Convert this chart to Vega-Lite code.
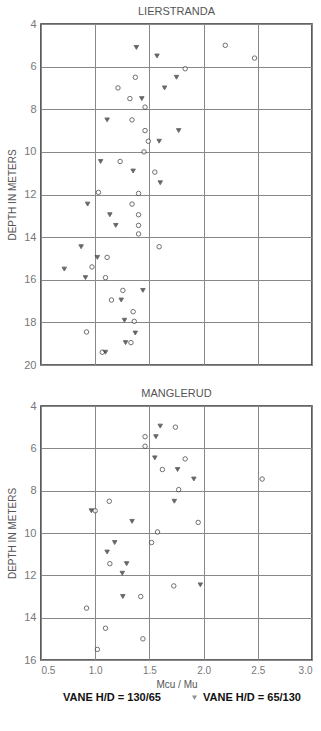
{
  "$schema": "https://vega.github.io/schema/vega-lite/v6.json",
  "background": "white",
  "padding": {"left": 6, "top": 5, "right": 0, "bottom": 0},
  "config": {
    "font": "Liberation Sans",
    "view": {"stroke": "#333", "strokeWidth": 1.6},
    "axis": {"gridColor": "#888", "gridOpacity": 1, "gridWidth": 1, "domainOpacity": 0, "tickOpacity": 0, "tickSize": 0, "labelColor": "#777", "labelFontSize": 11, "labelPadding": 5, "titleColor": "#555", "titleFontSize": 10, "titleFontWeight": "normal", "titlePadding": 6},
    "title": {"fontSize": 11, "fontWeight": "normal", "color": "#555", "offset": 1},
    "concat": {"spacing": 16},
    "legend": {"orient": "none", "legendX": 8, "legendY": 668, "padding": 0, "direction": "horizontal", "labelFontSize": 11, "labelFontWeight": "bold", "labelColor": "#111", "symbolSize": 25, "symbolStrokeColor": "#333", "symbolStrokeWidth": 1.2, "labelOffset": 3, "columnPadding": 28}
  },
  "datasets": {
    "lier": [
      {"v": "t", "r": 1.38, "d": 5.1}, {"v": "t", "r": 1.57, "d": 5.5}, {"v": "c", "r": 2.2, "d": 5.0}, {"v": "c", "r": 2.47, "d": 5.6},
      {"v": "c", "r": 1.83, "d": 6.1}, {"v": "c", "r": 1.37, "d": 6.5}, {"v": "t", "r": 1.75, "d": 6.5}, {"v": "c", "r": 1.21, "d": 7.0},
      {"v": "t", "r": 1.64, "d": 7.0}, {"v": "c", "r": 1.32, "d": 7.5}, {"v": "t", "r": 1.43, "d": 7.5}, {"v": "c", "r": 1.46, "d": 7.9},
      {"v": "t", "r": 1.11, "d": 8.5}, {"v": "c", "r": 1.34, "d": 8.5}, {"v": "c", "r": 1.46, "d": 9.0}, {"v": "t", "r": 1.77, "d": 9.0},
      {"v": "c", "r": 1.49, "d": 9.5}, {"v": "t", "r": 1.59, "d": 9.5}, {"v": "c", "r": 1.45, "d": 10.0}, {"v": "t", "r": 1.05, "d": 10.45},
      {"v": "c", "r": 1.23, "d": 10.45}, {"v": "t", "r": 1.35, "d": 10.9}, {"v": "c", "r": 1.55, "d": 10.95}, {"v": "t", "r": 1.6, "d": 11.45},
      {"v": "c", "r": 1.03, "d": 11.9}, {"v": "c", "r": 1.4, "d": 11.95}, {"v": "t", "r": 0.93, "d": 12.45}, {"v": "c", "r": 1.34, "d": 12.45},
      {"v": "t", "r": 1.135, "d": 12.95}, {"v": "c", "r": 1.4, "d": 12.95}, {"v": "t", "r": 1.19, "d": 13.45}, {"v": "c", "r": 1.4, "d": 13.45},
      {"v": "c", "r": 1.4, "d": 13.85}, {"v": "t", "r": 0.87, "d": 14.45}, {"v": "c", "r": 1.59, "d": 14.45}, {"v": "t", "r": 1.02, "d": 14.95},
      {"v": "c", "r": 1.11, "d": 14.95}, {"v": "t", "r": 0.715, "d": 15.5}, {"v": "c", "r": 0.97, "d": 15.4}, {"v": "t", "r": 0.91, "d": 15.9},
      {"v": "c", "r": 1.095, "d": 15.9}, {"v": "c", "r": 1.255, "d": 16.5}, {"v": "t", "r": 1.44, "d": 16.5}, {"v": "c", "r": 1.15, "d": 16.95},
      {"v": "t", "r": 1.24, "d": 16.95}, {"v": "c", "r": 1.35, "d": 17.5}, {"v": "t", "r": 1.27, "d": 17.9}, {"v": "c", "r": 1.36, "d": 17.95},
      {"v": "c", "r": 0.92, "d": 18.45}, {"v": "t", "r": 1.37, "d": 18.5}, {"v": "t", "r": 1.28, "d": 18.95}, {"v": "c", "r": 1.33, "d": 18.95},
      {"v": "c", "r": 1.065, "d": 19.4}, {"v": "t", "r": 1.095, "d": 19.4}
    ],
    "mang": [
      {"v": "t", "r": 1.6, "d": 4.95}, {"v": "c", "r": 1.74, "d": 5.0}, {"v": "c", "r": 1.46, "d": 5.45}, {"v": "t", "r": 1.56, "d": 5.45},
      {"v": "c", "r": 1.46, "d": 5.9}, {"v": "t", "r": 1.55, "d": 6.45}, {"v": "c", "r": 1.83, "d": 6.5}, {"v": "c", "r": 1.62, "d": 7.0},
      {"v": "t", "r": 1.76, "d": 7.0}, {"v": "t", "r": 1.91, "d": 7.45}, {"v": "c", "r": 2.54, "d": 7.45}, {"v": "c", "r": 1.77, "d": 7.95},
      {"v": "c", "r": 1.13, "d": 8.5}, {"v": "t", "r": 1.73, "d": 8.5}, {"v": "t", "r": 0.965, "d": 8.95}, {"v": "c", "r": 1.0, "d": 8.95},
      {"v": "t", "r": 1.34, "d": 9.45}, {"v": "c", "r": 1.95, "d": 9.5}, {"v": "c", "r": 1.575, "d": 9.95}, {"v": "t", "r": 1.18, "d": 10.45},
      {"v": "c", "r": 1.52, "d": 10.45}, {"v": "t", "r": 1.11, "d": 10.9}, {"v": "c", "r": 1.135, "d": 11.45}, {"v": "t", "r": 1.29, "d": 11.45},
      {"v": "t", "r": 1.25, "d": 11.9}, {"v": "c", "r": 1.725, "d": 12.5}, {"v": "t", "r": 1.97, "d": 12.45}, {"v": "t", "r": 1.255, "d": 13.0},
      {"v": "c", "r": 1.42, "d": 13.0}, {"v": "c", "r": 0.92, "d": 13.55}, {"v": "c", "r": 1.095, "d": 14.5}, {"v": "c", "r": 1.44, "d": 15.0},
      {"v": "c", "r": 1.02, "d": 15.5}
    ]
  },
  "vconcat": [
    {
      "title": "LIERSTRANDA",
      "width": 271,
      "height": 341,
      "data": {"name": "lier"},
      "mark": {"type": "point", "filled": false, "stroke": "#333", "strokeWidth": 1, "size": 20},
      "encoding": {
        "x": {"field": "r", "type": "quantitative", "scale": {"domain": [0.5, 3.0], "nice": false, "zero": false}, "axis": {"values": [0.5, 1.0, 1.5, 2.0, 2.5, 3.0], "labels": false, "title": null, "grid": true}},
        "y": {"field": "d", "type": "quantitative", "scale": {"domain": [4, 20], "reverse": true, "nice": false, "zero": false}, "axis": {"values": [4, 6, 8, 10, 12, 14, 16, 18, 20], "title": "DEPTH IN METERS", "grid": true}},
        "shape": {"field": "v", "type": "nominal", "scale": {"domain": ["c", "t"], "range": ["circle", "triangle-down"]}, "legend": {"title": null, "labelExpr": "datum.label == 'c' ? 'VANE H/D = 130/65' : 'VANE H/D = 65/130'", "encode": {"symbols": {"update": {"stroke": {"value": "#333"}, "strokeWidth": {"value": 1.2}}}}}},
        "fill": {"field": "v", "type": "nominal", "scale": {"domain": ["c", "t"], "range": ["white", "#222"]}, "legend": {"title": null, "labelExpr": "datum.label == 'c' ? 'VANE H/D = 130/65' : 'VANE H/D = 65/130'", "encode": {"symbols": {"update": {"stroke": {"value": "#333"}, "strokeWidth": {"value": 1.2}}}}}}
      }
    },
    {
      "title": "MANGLERUD",
      "width": 271,
      "height": 254,
      "data": {"name": "mang"},
      "mark": {"type": "point", "filled": false, "stroke": "#333", "strokeWidth": 1, "size": 20},
      "encoding": {
        "x": {"field": "r", "type": "quantitative", "scale": {"domain": [0.5, 3.0], "nice": false, "zero": false}, "axis": {"values": [0.5, 1.0, 1.5, 2.0, 2.5, 3.0], "format": ".1f", "title": "Mcu / Mu", "titlePadding": 4, "labelFontSize": 10, "grid": true}},
        "y": {"field": "d", "type": "quantitative", "scale": {"domain": [4, 16], "reverse": true, "nice": false, "zero": false}, "axis": {"values": [4, 6, 8, 10, 12, 14, 16], "title": "DEPTH IN METERS", "grid": true}},
        "shape": {"field": "v", "type": "nominal", "scale": {"domain": ["c", "t"], "range": ["circle", "triangle-down"]}, "legend": {"title": null, "labelExpr": "datum.label == 'c' ? 'VANE H/D = 130/65' : 'VANE H/D = 65/130'", "encode": {"symbols": {"update": {"stroke": {"value": "#333"}, "strokeWidth": {"value": 1.2}}}}}},
        "fill": {"field": "v", "type": "nominal", "scale": {"domain": ["c", "t"], "range": ["white", "#222"]}, "legend": {"title": null, "labelExpr": "datum.label == 'c' ? 'VANE H/D = 130/65' : 'VANE H/D = 65/130'", "encode": {"symbols": {"update": {"stroke": {"value": "#333"}, "strokeWidth": {"value": 1.2}}}}}}
      }
    }
  ]
}
